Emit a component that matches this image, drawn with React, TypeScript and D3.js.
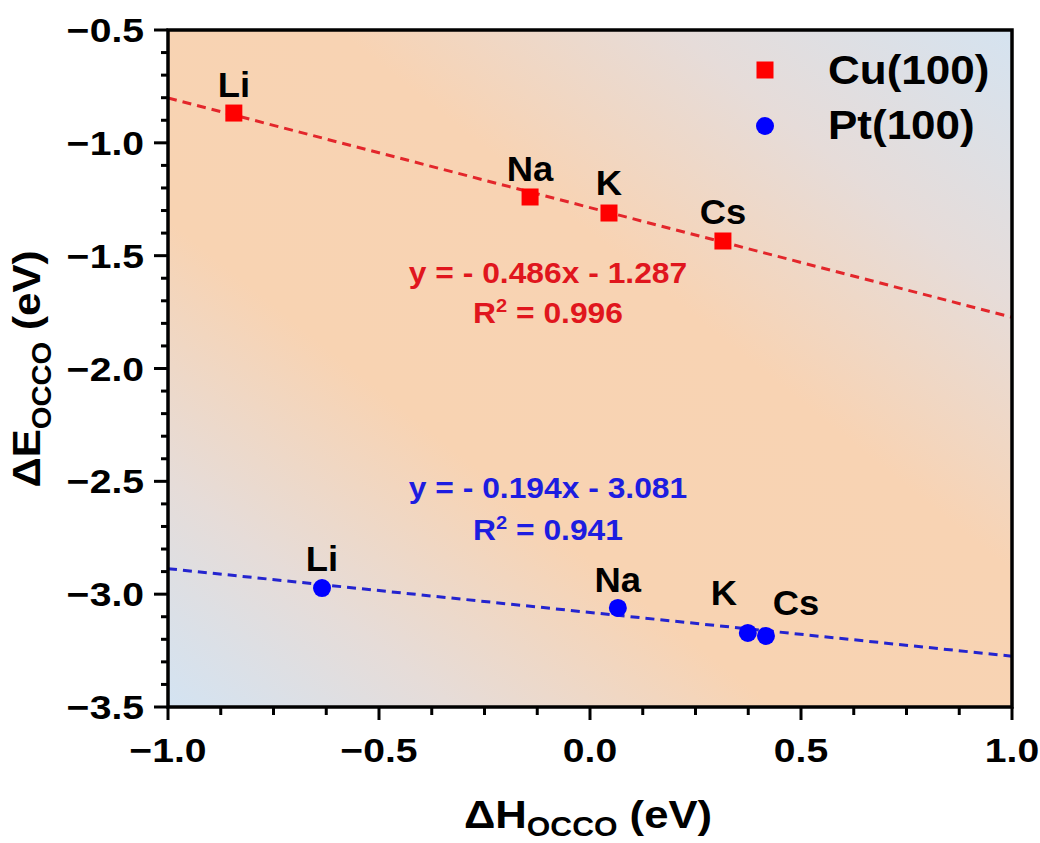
import React from "react";
import * as d3 from "d3";

const metals = ["Li", "Na", "K", "Cs"];
const cuX = [-0.844, -0.142, 0.045, 0.315];
const cuY = [-0.868, -1.24, -1.311, -1.435];
const ptX = [-0.635, 0.066, 0.374, 0.417];
const ptY = [-2.973, -3.061, -3.172, -3.185];
const cuFit = [-0.486, -1.287];
const ptFit = [-0.194, -3.081];
const cuR2 = "0.996";
const ptR2 = "0.941";
const xTicks = [-1.0, -0.5, 0.0, 0.5, 1.0];
const yTicks = [-0.5, -1.0, -1.5, -2.0, -2.5, -3.0, -3.5];
const cuLabelOffset = [[0, -16], [0, -16], [0, -18], [0, -17]];
const ptLabelOffset = [[0, -17], [0, -16], [-24, -28], [30, -21]];
const seriesNames = ["Cu(100)", "Pt(100)"];

const W = 1040, H = 843;
const L = 168, R = 1012, T = 30, B = 707;
const FONT = "Arial, 'Liberation Sans', Helvetica, sans-serif";
const RED = "#ff0000", BLUE = "#0000ff";
const RED_LINE = "#e3262b", BLUE_LINE = "#2424cf";
const RED_TXT = "#e0161d", BLUE_TXT = "#1d1de0";

const fmt = (v: number) => (v < 0 ? "\u2212" : "") + Math.abs(v).toFixed(1);

function ST(props: any) {
  const { x, y, sx = 1.1, rot = 0, children, ...rest } = props;
  return (
    <text transform={`translate(${x},${y}) rotate(${rot}) scale(${sx},1)`} fontWeight="bold" {...rest}>
      {children}
    </text>
  );
}

export default function App() {
  const x = d3.scaleLinear().domain([-1, 1]).range([L, R]);
  const y = d3.scaleLinear().domain([-0.5, -3.5]).range([T, B]);
  const isMajor = (v: number) => Math.abs(v * 2 - Math.round(v * 2)) < 1e-6;
  const xMinor = d3.range(-1, 1.0001, 0.125).filter((v) => !isMajor(v));
  const yMinor = d3.range(-0.5, -3.5001, -0.1).filter((v) => !isMajor(v));
  const fitPath = (f: number[]) =>
    d3.line<number>().x((d) => x(d)).y((d) => y(f[0] * d + f[1]))([-1, 1]) || "";
  const eq = (f: number[]) => `y = - ${Math.abs(f[0]).toFixed(3)}x - ${Math.abs(f[1]).toFixed(3)}`;

  return (
    <svg width={W} height={H} style={{ position: "absolute", left: 0, top: 0, background: "#fff" }} fontFamily={FONT}>
      <defs>
        <linearGradient id="bg" x1="0" y1="1" x2="1" y2="0">
          <stop offset="0" stopColor="#d3e3f2" />
          <stop offset="0.17" stopColor="#e6dcd8" />
          <stop offset="0.36" stopColor="#f8d3b2" />
          <stop offset="0.6" stopColor="#f8d3b3" />
          <stop offset="0.8" stopColor="#e6dcd9" />
          <stop offset="1" stopColor="#d5e3f0" />
        </linearGradient>
        <clipPath id="clip">
          <rect x={L} y={T} width={R - L} height={B - T} />
        </clipPath>
      </defs>
      <rect x={L} y={T} width={R - L} height={B - T} fill="url(#bg)" />

      <g clipPath="url(#clip)">
        <path d={fitPath(cuFit)} stroke={RED_LINE} strokeWidth={3} strokeDasharray="9,6" fill="none" />
        <path d={fitPath(ptFit)} stroke={BLUE_LINE} strokeWidth={3} strokeDasharray="9,6" fill="none" />
      </g>

      {cuX.map((v, i) => (
        <rect key={"c" + i} x={x(v) - 8.5} y={y(cuY[i]) - 8.5} width={17} height={17} fill={RED} />
      ))}
      {ptX.map((v, i) => (
        <circle key={"p" + i} cx={x(v)} cy={y(ptY[i])} r={9} fill={BLUE} />
      ))}

      {metals.map((m, i) => (
        <ST key={"cl" + i} x={x(cuX[i]) + cuLabelOffset[i][0]} y={y(cuY[i]) + cuLabelOffset[i][1]}
          sx={1.04} textAnchor="middle" fontSize={35} fill="#000">{m}</ST>
      ))}
      {metals.map((m, i) => (
        <ST key={"pl" + i} x={x(ptX[i]) + ptLabelOffset[i][0]} y={y(ptY[i]) + ptLabelOffset[i][1]}
          sx={1.04} textAnchor="middle" fontSize={35} fill="#000">{m}</ST>
      ))}

      <ST x={548} y={283} sx={1.06} textAnchor="middle" fontSize={30} fill={RED_TXT}>{eq(cuFit)}</ST>
      <ST x={548} y={323} sx={1.06} textAnchor="middle" fontSize={30} fill={RED_TXT}>
        R<tspan dy={-11} fontSize={19}>2</tspan><tspan dy={11}>{" = " + cuR2}</tspan>
      </ST>
      <ST x={548} y={498} sx={1.06} textAnchor="middle" fontSize={30} fill={BLUE_TXT}>{eq(ptFit)}</ST>
      <ST x={548} y={540} sx={1.06} textAnchor="middle" fontSize={30} fill={BLUE_TXT}>
        R<tspan dy={-11} fontSize={19}>2</tspan><tspan dy={11}>{" = " + ptR2}</tspan>
      </ST>

      {/* legend */}
      <rect x={765 - 8.5} y={70 - 8.5} width={17} height={17} fill={RED} />
      <circle cx={765} cy={126} r={9} fill={BLUE} />
      <ST x={828} y={84} sx={1.1} fontSize={40} fill="#000">{seriesNames[0]}</ST>
      <ST x={828} y={139} sx={1.1} fontSize={40} fill="#000">{seriesNames[1]}</ST>

      {/* frame */}
      <rect x={L} y={T} width={R - L} height={B - T} fill="none" stroke="#000" strokeWidth={3.5} />

      {xTicks.map((v) => (
        <g key={"xt" + v}>
          <line x1={x(v)} x2={x(v)} y1={B} y2={B + 13} stroke="#000" strokeWidth={3} />
          <ST x={x(v)} y={762} sx={1.15} textAnchor="middle" fontSize={34}>{fmt(v)}</ST>
        </g>
      ))}
      {xMinor.map((v) => (
        <line key={"xm" + v} x1={x(v)} x2={x(v)} y1={B} y2={B + 8} stroke="#000" strokeWidth={3} />
      ))}
      {yTicks.map((v) => (
        <g key={"yt" + v}>
          <line x1={L - 14} x2={L} y1={y(v)} y2={y(v)} stroke="#000" strokeWidth={3} />
          <ST x={144} y={y(v) + 12} sx={1.15} textAnchor="end" fontSize={34}>{fmt(v)}</ST>
        </g>
      ))}
      {yMinor.map((v) => (
        <line key={"ym" + v} x1={L - 7} x2={L} y1={y(v)} y2={y(v)} stroke="#000" strokeWidth={3} />
      ))}

      <ST x={588} y={828} sx={1.12} textAnchor="middle" fontSize={39}>
        ΔH<tspan dy={8} fontSize={27}>OCCO</tspan><tspan dy={-8}>{" (eV)"}</tspan>
      </ST>
      <ST x={40} y={369} rot={-90} sx={1.08} textAnchor="middle" fontSize={39}>
        ΔE<tspan dy={11} fontSize={27}>OCCO</tspan><tspan dy={-11}>{" (eV)"}</tspan>
      </ST>
    </svg>
  );
}
